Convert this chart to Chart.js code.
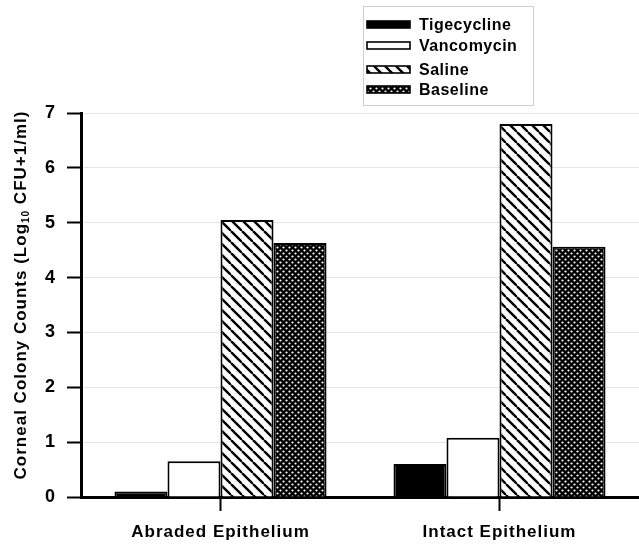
<!DOCTYPE html>
<html>
<head>
<meta charset="utf-8">
<script src="https://cdn.jsdelivr.net/npm/chart.js@4"></script>
<style>
  html, body { margin: 0; padding: 0; background: #fff; }
  #wrap { width: 639px; height: 544px; position: relative; }
</style>
</head>
<body>
<div id="wrap"><canvas id="chart"></canvas></div>
<script>
// data
const categories = ["Abraded Epithelium", "Intact Epithelium"];
const seriesNames = ["Tigecycline", "Vancomycin", "Saline", "Baseline"];
const tigecycline = [0.1, 0.6];
const vancomycin = [0.65, 1.08];
const saline = [5.05, 6.8];
const baseline = [4.63, 4.56];
const yMin = 0, yMax = 7, yStep = 1;

const FONT = "'Liberation Sans', Arial, sans-serif";

// fill patterns
function hatchPattern() {
  const s = 11;
  const c = document.createElement("canvas");
  c.width = s; c.height = s;
  const g = c.getContext("2d");
  g.fillStyle = "#fff";
  g.fillRect(0, 0, s, s);
  g.strokeStyle = "#000";
  g.lineWidth = 2.4;
  for (const k of [-s, 0, s]) {
    g.beginPath();
    g.moveTo(k, 0);
    g.lineTo(k + s, s);
    g.stroke();
  }
  return g.createPattern(c, "repeat");
}

function dotPattern() {
  const s = 6;
  const c = document.createElement("canvas");
  c.width = s; c.height = s;
  const g = c.getContext("2d");
  g.fillStyle = "#000";
  g.fillRect(0, 0, s, s);
  g.fillStyle = "#fff";
  for (const [x, y] of [[1.5, 1.5], [4.5, 4.5]]) {
    g.beginPath();
    g.arc(x, y, 1.1, 0, Math.PI * 2);
    g.fill();
  }
  return g.createPattern(c, "repeat");
}

const fills = ["#000", "#fff", hatchPattern(), dotPattern()];
const seriesData = [tigecycline, vancomycin, saline, baseline];

// the original text is a little wider than Arial
const spacing = {
  id: "spacing",
  beforeDraw(chart) { chart.ctx.letterSpacing = "1px"; }
};

// legend box in the top right, like the original
const legendBox = {
  id: "legendBox",
  afterDraw(chart) {
    const ctx = chart.ctx;
    ctx.save();
    ctx.letterSpacing = "0.5px";
    ctx.strokeStyle = "#cfcfcf";
    ctx.lineWidth = 1;
    ctx.strokeRect(363.5, 6.5, 170, 99);
    const rows = [24.5, 45.5, 69.5, 89.5];
    ctx.font = "bold 16px " + FONT;
    ctx.textBaseline = "middle";
    seriesNames.forEach((name, i) => {
      ctx.fillStyle = fills[i];
      ctx.fillRect(367, rows[i] - 3.5, 43, 7);
      ctx.strokeStyle = "#000";
      ctx.lineWidth = 1.6;
      ctx.strokeRect(367, rows[i] - 3.5, 43, 7);
      ctx.fillStyle = "#000";
      ctx.fillText(name, 419, rows[i] + 1);
    });
    ctx.restore();
  }
};

// rotated y title with subscript
const yTitle = {
  id: "yTitle",
  afterDraw(chart) {
    const ctx = chart.ctx;
    const parts = [
      ["Corneal Colony Counts (Log", 17, 0],
      ["10", 10, 5],
      [" CFU+1/ml)", 17, 0]
    ];
    ctx.save();
    ctx.letterSpacing = "1px";
    let total = 0;
    parts.forEach(p => {
      ctx.font = "bold " + p[1] + "px " + FONT;
      total += ctx.measureText(p[0]).width;
    });
    ctx.translate(21, 295);
    ctx.rotate(-Math.PI / 2);
    ctx.fillStyle = "#000";
    ctx.textBaseline = "middle";
    let x = -total / 2;
    parts.forEach(p => {
      ctx.font = "bold " + p[1] + "px " + FONT;
      ctx.fillText(p[0], x, p[2]);
      x += ctx.measureText(p[0]).width;
    });
    ctx.restore();
  }
};

new Chart(document.getElementById("chart"), {
  type: "bar",
  data: {
    labels: categories,
    datasets: seriesNames.map((name, i) => ({
      label: name,
      data: seriesData[i],
      backgroundColor: fills[i],
      borderColor: "#000",
      borderWidth: 2,
      categoryPercentage: 0.76,
      barPercentage: 1
    }))
  },
  options: {
    responsive: true,
    maintainAspectRatio: false,
    animation: false,
    layout: { padding: { top: 113, right: -5, left: 0, bottom: 0 } },
    plugins: {
      legend: { display: false },
      tooltip: { enabled: false }
    },
    scales: {
      x: {
        border: { color: "#000", width: 3 },
        grid: {
          offset: false,
          drawOnChartArea: false,
          tickColor: "#000",
          tickWidth: 2,
          tickLength: 14
        },
        ticks: {
          color: "#000",
          padding: 11,
          font: { family: FONT, size: 17, weight: "bold" }
        },
        afterFit(scale) { scale.height = 47; }
      },
      y: {
        min: yMin,
        max: yMax,
        border: { color: "#000", width: 3 },
        grid: {
          color: "#e6e6e6",
          lineWidth: 1,
          tickColor: "#000",
          tickWidth: 2,
          tickLength: 14
        },
        ticks: {
          stepSize: yStep,
          color: "#000",
          padding: 11,
          font: { family: FONT, size: 18, weight: "bold" }
        },
        afterFit(scale) { scale.width = 81; }
      }
    }
  },
  plugins: [spacing, legendBox, yTitle]
});
</script>
</body>
</html>
